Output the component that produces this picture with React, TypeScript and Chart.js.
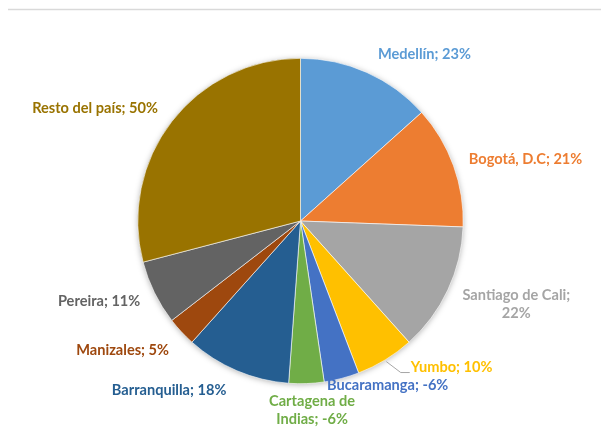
import React, { useEffect, useRef } from "react";
import { Chart, registerables } from "chart.js";

Chart.register(...registerables);

const cities: string[] = [
  "Medellín",
  "Bogotá, D.C",
  "Santiago de Cali",
  "Yumbo",
  "Bucaramanga",
  "Cartagena de Indias",
  "Barranquilla",
  "Manizales",
  "Pereira",
  "Resto del país",
];
const growth: number[] = [23, 21, 22, 10, -6, -6, 18, 5, 11, 50];
const colors: string[] = [
  "#5B9BD5",
  "#ED7D31",
  "#A5A5A5",
  "#FFC000",
  "#4472C4",
  "#70AD47",
  "#255E91",
  "#9E480E",
  "#636363",
  "#997300",
];
// label text lines (wrapped as in the reference)
const labelLines: string[][] = [
  ["Medellín; 23%"],
  ["Bogotá, D.C; 21%"],
  ["Santiago de Cali;", "22%"],
  ["Yumbo; 10%"],
  ["Bucaramanga; -6%"],
  ["Cartagena de", "Indias; -6%"],
  ["Barranquilla; 18%"],
  ["Manizales; 5%"],
  ["Pereira; 11%"],
  ["Resto del país; 50%"],
];
// layout nudges of label centres from the radial anchor
const labelNudge: [number, number][] = [
  [51, -3.5],
  [57, -1],
  [54, 7],
  [58, -6],
  [42, -9],
  [5, 10.5],
  [-61.5, 4.5],
  [-47, 8],
  [-41, 1.5],
  [-64, -3.5],
];
const leader: boolean[] = [false, false, false, true, false, false, false, false, false, false];

const FONT = "bold 14.6px Lato, 'Open Sans', sans-serif";

const decorPlugin = {
  id: "decor",
  beforeDatasetsDraw(chart: any) {
    const ctx = chart.ctx;
    const meta = chart.getDatasetMeta(0);
    const a = meta.data[0];
    if (!a) return;
    const { x, y, outerRadius } = a.getProps(["x", "y", "outerRadius"], true);
    ctx.save();
    // top rule
    ctx.strokeStyle = "#d9d9d9";
    ctx.lineWidth = 1.5;
    ctx.beginPath();
    ctx.moveTo(8, 9.5);
    ctx.lineTo(chart.width, 9.5);
    ctx.stroke();
    // pie shadow
    ctx.shadowColor = "rgba(0,0,0,0.35)";
    ctx.shadowBlur = 6;
    ctx.shadowOffsetX = 0;
    ctx.shadowOffsetY = 1;
    ctx.fillStyle = "#ffffff";
    ctx.beginPath();
    ctx.arc(x, y, outerRadius - 0.5, 0, Math.PI * 2);
    ctx.fill();
    ctx.restore();
  },
  afterDatasetsDraw(chart: any) {
    const ctx = chart.ctx;
    const meta = chart.getDatasetMeta(0);
    ctx.save();
    ctx.font = FONT;
    ctx.textAlign = "center";
    ctx.textBaseline = "middle";
    const lh = 18;
    meta.data.forEach((arc: any, i: number) => {
      const p = arc.getProps(["x", "y", "startAngle", "endAngle", "outerRadius"], true);
      const mid = (p.startAngle + p.endAngle) / 2;
      const r = p.outerRadius + 16;
      const ax = p.x + Math.cos(mid) * r + labelNudge[i][0];
      const ay = p.y + Math.sin(mid) * r + labelNudge[i][1];
      const lines = labelLines[i];
      const y0 = ay - ((lines.length - 1) * lh) / 2;
      ctx.fillStyle = colors[i];
      lines.forEach((t, k) => ctx.fillText(t, ax, y0 + k * lh));
      if (leader[i]) {
        const w = Math.max(...lines.map((t) => ctx.measureText(t).width));
        const left = ax - w / 2;
        const sx = p.x + Math.cos(mid) * (p.outerRadius + 2);
        const sy = p.y + Math.sin(mid) * (p.outerRadius + 2);
        ctx.strokeStyle = "#A6A6A6";
        ctx.lineWidth = 1;
        ctx.beginPath();
        ctx.moveTo(sx, sy);
        ctx.lineTo(left - 10, ay + 5);
        ctx.lineTo(left - 1, ay + 5);
        ctx.stroke();
      }
    });
    ctx.restore();
  },
};

export default function App() {
  const ref = useRef<HTMLCanvasElement | null>(null);
  useEffect(() => {
    if (!ref.current) return;
    const chart = new Chart(ref.current, {
      type: "pie",
      data: {
        labels: cities,
        datasets: [
          {
            data: growth.map((v) => Math.abs(v)),
            backgroundColor: colors,
            borderColor: "#ffffff",
            borderWidth: 0.6,
          },
        ],
      },
      options: {
        responsive: false,
        animation: false,
        layout: { padding: { top: 58, bottom: 44, left: 0, right: 0 } },
        plugins: {
          legend: { display: false },
          tooltip: { enabled: false },
        },
      },
      plugins: [decorPlugin],
    });
    return () => chart.destroy();
  }, []);
  return (
    <div style={{ position: "absolute", left: 0, top: 0, width: 601, height: 428, background: "#fff" }}>
      <canvas ref={ref} width={601} height={428} />
    </div>
  );
}
